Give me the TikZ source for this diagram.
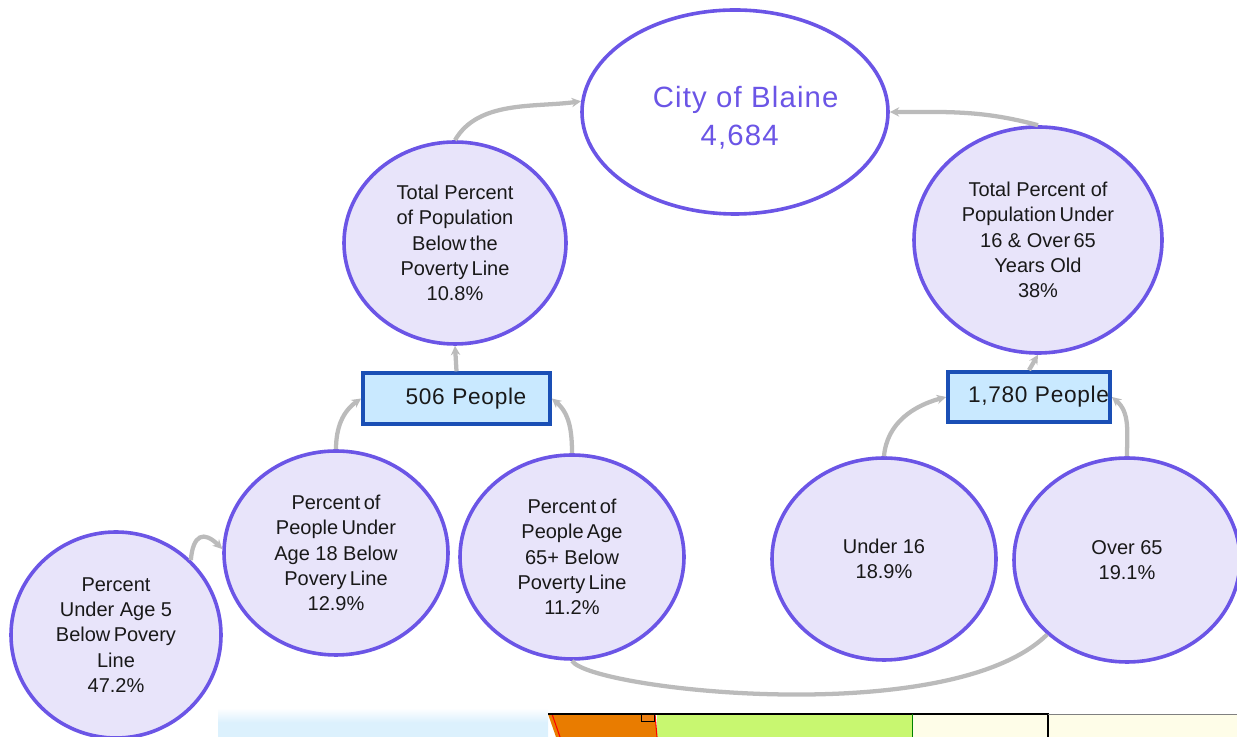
\documentclass[tikz,border=0pt]{standalone}
\usepackage{fontspec}
\setmainfont{Liberation Sans}
\usepackage{xcolor}
\usetikzlibrary{shapes.geometric, arrows.meta}
\definecolor{ringblue}{HTML}{6B55E6}
\definecolor{ringfill}{HTML}{E8E4FA}
\definecolor{boxedge}{HTML}{1A4FB5}
\definecolor{boxfill}{HTML}{C9E9FF}
\definecolor{linkgray}{HTML}{BBBBBB}
\definecolor{mapblue}{HTML}{DCF1FD}
\definecolor{mapgreen}{HTML}{C8F770}
\definecolor{maporange}{HTML}{E97C00}
\definecolor{mapcream}{HTML}{FEFDE8}
\tikzset{
    ring/.style={ellipse, draw=ringblue, fill=ringfill, line width=2.7pt, inner sep=0pt, align=center,
        font=\fontsize{15}{18.9}\selectfont, text=black!90},
    countbox/.style={rectangle, draw=boxedge, fill=boxfill, line width=2.8pt, inner sep=0pt, align=left,
        font=\fontsize{17}{19}\selectfont\addfontfeatures{LetterSpace=3}, text=black!90},
    link/.style={draw=linkgray, line width=3.2pt, -{Stealth[length=7pt,width=7pt]}},
    linkplain/.style={draw=linkgray, line width=3.2pt}
}
\begin{document}
\begin{tikzpicture}[x=0.75pt, y=0.75pt]
    \useasboundingbox (0,0) rectangle (1237,737);

    % map strip
    \shade[top color=white, bottom color=mapblue, middle color=mapblue] (218,0) rectangle (548,29);
    \fill[mapcream] (912,0) rectangle (1237,23);
    \fill[mapgreen] (657,0) rectangle (912,23);
    \fill[maporange] (548,23) -- (655,23) -- (657,0) -- (556,0) -- cycle;
    \draw[red, thick] (552,23) -- (560,0);
    \draw[red, thick] (655,23) -- (657,0);
    \draw[black, thick] (548,23) -- (1048,23) -- (1048,0);
    \draw[black!50] (1048,23) -- (1237,23);
    \draw[green!50!black, thin] (912,23) -- (912,0);
    \draw[black, fill=orange!70!brown] (641,23) rectangle (654,16);

    % rings
    \node[ring, fill=white, minimum width=229.5pt, minimum height=153pt,
        font=\fontsize{22}{28.5}\selectfont\addfontfeatures{LetterSpace=4}, text=ringblue] (blaine) at (735,625)
        {\rule{0pt}{24pt}\hspace*{16pt}City of Blaine\\\hspace*{7pt}4,684};
    \node[ring, minimum width=166.5pt, minimum height=151.5pt] (totalpov) at (455,494)
        {Total Percent\\of Population\\Below\,the\\Poverty\,Line\\10.8\%};
    \node[ring, minimum width=186pt, minimum height=169.5pt] (totalage) at (1038,497)
        {Total Percent of\\Population\,Under\\16 \& Over\,65\\Years Old\\38\%};
    \node[ring, minimum width=168pt, minimum height=153pt] (under18) at (336,184)
        {Percent\,of\\People\,Under\\Age 18 Below\\Povery\,Line\\12.9\%};
    \node[ring, minimum width=168pt, minimum height=153pt] (age65) at (572,180)
        {Percent\,of\\People\,Age\\65+ Below\\Poverty\,Line\\11.2\%};
    \node[ring, minimum width=168pt, minimum height=151.5pt] (under16) at (884,178) {Under 16\\18.9\%};
    \node[ring, minimum width=169.5pt, minimum height=153pt] (over65) at (1127,177) {Over 65\\19.1\%};
    \node[ring, minimum width=157.5pt, minimum height=154.5pt] (under5) at (116,102)
        {Percent\\Under Age 5\\Below\,Povery\\Line\\47.2\%};

    % boxes
    \node[countbox, minimum height=38pt, text width=140.25pt] (box506) at (456.5,338.5) {\hspace*{32pt}506 People};
    \node[countbox, minimum height=37.5pt, text width=121.5pt] (box1780) at (1029,340) {\hspace*{15pt}1,780 People};

    % links
    \draw[link] (totalpov.90) to[out=60, in=188, looseness=0.9] (blaine.176);
    \draw[link] (totalage.90) to[out=165, in=0] (blaine.east);
    \draw[link] (box506.north) -- (totalpov.south);
    \draw[link] (box1780.north) -- (totalage.south);
    \draw[link] (under18.90) to[out=90, in=215] (box506.west);
    \draw[link] (age65.90) to[out=90, in=-40] (box506.east);
    \draw[link] (under5.45) to[out=85, in=135, looseness=2] (under18.178);
    \draw[link] (under16.90) to[out=85, in=195] (box1780.west);
    \draw[link] (over65.90) to[out=90, in=-40] (box1780.east);
    \draw[linkplain] (age65.south) .. controls (590,47) and (950,7) .. (over65.223);
\end{tikzpicture}
\end{document}
